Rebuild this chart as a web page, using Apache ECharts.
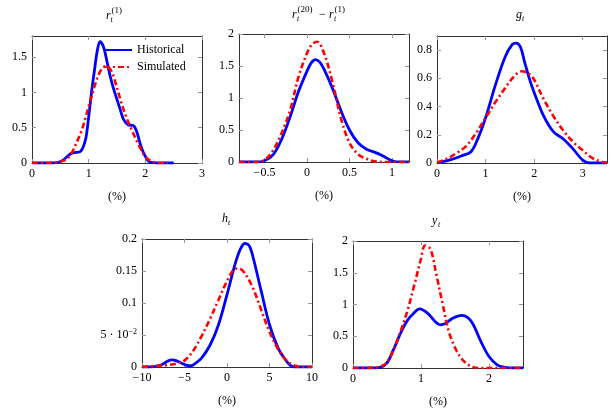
<!DOCTYPE html>
<html lang="en">
<head>
    <meta charset="UTF-8">
    <title>Densities</title>
    <script src="https://cdnjs.cloudflare.com/ajax/libs/echarts/6.0.0/echarts.min.js"></script>
    <style>
        body { margin: 0; background: #fff; }
        #main { width: 613px; height: 411px; }
    </style>
</head>
<body>
    <div id="main"></div>
    <script>
        // r_t^(1)
        const r1HistX = [0, 0.3, 0.45, 0.55, 0.62, 0.7, 0.78, 0.85, 0.9, 0.95, 1.0, 1.05, 1.1, 1.15, 1.2, 1.26, 1.32, 1.38, 1.44, 1.5, 1.56, 1.62, 1.7, 1.79, 1.85, 1.91, 1.97, 2.06, 2.15, 2.3, 2.5];
        const r1HistY = [0, 0, 0.005, 0.04, 0.09, 0.14, 0.15, 0.16, 0.22, 0.35, 0.65, 1.0, 1.3, 1.58, 1.72, 1.65, 1.45, 1.23, 1.05, 0.9, 0.75, 0.61, 0.54, 0.53, 0.44, 0.27, 0.14, 0.02, 0.003, 0, 0];
        const r1SimX = [0, 0.3, 0.45, 0.55, 0.62, 0.7, 0.76, 0.82, 0.88, 0.94, 1.0, 1.06, 1.12, 1.18, 1.24, 1.3, 1.36, 1.42, 1.48, 1.56, 1.65, 1.76, 1.88, 2.0, 2.12, 2.25, 2.4];
        const r1SimY = [0, 0, 0.01, 0.03, 0.06, 0.14, 0.24, 0.35, 0.47, 0.63, 0.8, 0.97, 1.13, 1.26, 1.34, 1.37, 1.35, 1.27, 1.12, 0.9, 0.68, 0.47, 0.26, 0.09, 0.02, 0, 0];
        const r1XTicks = [0, 1, 2, 3];
        const r1YTicks = [0, 0.5, 1, 1.5];

        // r_t^(20) - r_t^(1)
        const sprHistX = [-0.8, -0.6, -0.5, -0.4, -0.3, -0.2, -0.1, 0, 0.05, 0.1, 0.15, 0.2, 0.3, 0.4, 0.5, 0.6, 0.7, 0.8, 0.9, 1.0, 1.1, 1.2];
        const sprHistY = [0, 0, 0.02, 0.11, 0.35, 0.7, 1.1, 1.42, 1.55, 1.6, 1.56, 1.45, 1.15, 0.8, 0.5, 0.3, 0.2, 0.15, 0.09, 0.02, 0, 0];
        const sprSimX = [-0.8, -0.6, -0.5, -0.4, -0.3, -0.2, -0.1, 0, 0.06, 0.12, 0.2, 0.3, 0.4, 0.5, 0.6, 0.7, 0.8, 0.9, 1.0, 1.2];
        const sprSimY = [0, 0, 0.03, 0.18, 0.45, 0.8, 1.33, 1.7, 1.84, 1.88, 1.7, 1.25, 0.68, 0.3, 0.12, 0.05, 0.01, 0, 0, 0];
        const sprXTicks = [-0.5, 0, 0.5, 1];
        const sprYTicks = [0, 0.5, 1, 1.5, 2];

        // g_t
        const gHistX = [0, 0.25, 0.5, 0.7, 0.85, 1.0, 1.2, 1.4, 1.55, 1.63, 1.72, 1.8, 1.9, 2.0, 2.2, 2.4, 2.6, 2.8, 3.0, 3.15, 3.3, 3.5];
        const gHistY = [0, 0.02, 0.05, 0.08, 0.18, 0.32, 0.55, 0.75, 0.84, 0.85, 0.82, 0.72, 0.6, 0.5, 0.33, 0.22, 0.17, 0.1, 0.02, 0, 0, 0];
        const gSimX = [0, 0.2, 0.4, 0.6, 0.8, 1.0, 1.2, 1.4, 1.6, 1.75, 1.9, 2.0, 2.2, 2.4, 2.6, 2.8, 3.0, 3.2, 3.4, 3.5];
        const gSimY = [0.005, 0.03, 0.07, 0.12, 0.21, 0.32, 0.43, 0.53, 0.62, 0.65, 0.63, 0.59, 0.45, 0.33, 0.23, 0.15, 0.09, 0.035, 0.008, 0.003];
        const gXTicks = [0, 1, 2, 3];
        const gYTicks = [0, 0.2, 0.4, 0.6, 0.8];

        // h_t
        const hHistX = [-10, -9, -8, -7.5, -7, -6.5, -6, -5.5, -5, -4.5, -4.2, -3.8, -3, -2, -1, 0, 1, 1.6, 2.1, 2.6, 3, 4, 5, 6, 7, 7.5, 8, 10];
        const hHistY = [0, 0, 0.002, 0.005, 0.009, 0.011, 0.01, 0.007, 0.004, 0.002, 0.002, 0.005, 0.014, 0.034, 0.066, 0.113, 0.163, 0.185, 0.193, 0.19, 0.175, 0.12, 0.066, 0.03, 0.009, 0.002, 0, 0];
        const hSimX = [-10, -9, -8, -7, -6, -5, -4, -3, -2, -1, 0, 0.9, 1.4, 2, 3, 4, 5, 6, 7, 8, 9, 10];
        const hSimY = [0, 0.001, 0.002, 0.003, 0.005, 0.01, 0.025, 0.048, 0.075, 0.105, 0.134, 0.153, 0.154, 0.148, 0.125, 0.09, 0.055, 0.028, 0.01, 0.002, 0, 0];
        const hXTicks = [-10, -5, 0, 5, 10];
        const hYTicks = [0, 0.05, 0.1, 0.15, 0.2];

        // y_t
        const yHistX = [0, 0.3, 0.4, 0.5, 0.6, 0.7, 0.8, 0.9, 0.98, 1.1, 1.2, 1.28, 1.36, 1.46, 1.6, 1.68, 1.76, 1.88, 2.0, 2.12, 2.24, 2.35, 2.5];
        const yHistY = [0, 0, 0.01, 0.08, 0.3, 0.55, 0.75, 0.87, 0.93, 0.86, 0.74, 0.68, 0.7, 0.78, 0.83, 0.8, 0.7, 0.42, 0.18, 0.05, 0.01, 0, 0];
        const ySimX = [0, 0.3, 0.4, 0.5, 0.6, 0.7, 0.8, 0.9, 1.0, 1.06, 1.14, 1.22, 1.32, 1.41, 1.51, 1.61, 1.73, 1.85, 2.1, 2.5];
        const ySimY = [0, 0.005, 0.02, 0.09, 0.3, 0.58, 0.9, 1.3, 1.72, 1.93, 1.87, 1.5, 1.0, 0.57, 0.3, 0.13, 0.03, 0, 0, 0];
        const yXTicks = [0, 1, 2];
        const yYTicks = [0, 0.5, 1, 1.5, 2];

        const SERIF = "'Liberation Serif', 'DejaVu Serif', serif";
        const BLUE = '#0000ff';
        const RED = '#ff0000';

        const panels = [
            { grid: { left: 32, top: 36, width: 170, height: 127 }, xr: [0, 3], yr: [0, 1.8], xt: r1XTicks, yt: r1YTicks, hx: r1HistX, hy: r1HistY, sx: r1SimX, sy: r1SimY },
            { grid: { left: 239, top: 34, width: 170, height: 128 }, xr: [-0.8, 1.2], yr: [0, 2], xt: sprXTicks, yt: sprYTicks, hx: sprHistX, hy: sprHistY, sx: sprSimX, sy: sprSimY },
            { grid: { left: 437, top: 36, width: 170, height: 127 }, xr: [0, 3.5], yr: [0, 0.9], xt: gXTicks, yt: gYTicks, hx: gHistX, hy: gHistY, sx: gSimX, sy: gSimY },
            { grid: { left: 142, top: 239, width: 170, height: 128 }, xr: [-10, 10], yr: [0, 0.2], xt: hXTicks, yt: hYTicks, hx: hHistX, hy: hHistY, sx: hSimX, sy: hSimY },
            { grid: { left: 353, top: 241, width: 170, height: 127 }, xr: [0, 2.5], yr: [0, 2], xt: yXTicks, yt: yYTicks, hx: yHistX, hy: yHistY, sx: ySimX, sy: ySimY }
        ];

        function zip(xs, ys) {
            return xs.map((x, i) => [x, ys[i]]);
        }

        function tickLabel(v) {
            if (Math.abs(v - 0.05) < 1e-9) return '5 · 10{sup|−2}';
            return String(v).replace('-', '−');
        }

        function makeAxis(i, range, ticks, pos, withLabels, isX) {
            return {
                type: 'value',
                gridIndex: i,
                position: pos,
                min: range[0],
                max: range[1],
                name: (isX && withLabels) ? '(%)' : '',
                nameLocation: 'middle',
                nameGap: 28,
                nameTextStyle: { fontFamily: SERIF, fontSize: 12, color: '#000' },
                axisLine: { show: true, onZero: false, lineStyle: { color: '#333', width: 1 } },
                axisTick: { show: true, inside: true, length: 4, customValues: ticks, lineStyle: { color: '#999' } },
                axisLabel: {
                    show: withLabels,
                    customValues: ticks,
                    margin: 5,
                    fontFamily: SERIF,
                    fontSize: 12,
                    color: '#000',
                    formatter: tickLabel,
                    rich: { sup: { fontFamily: SERIF, fontSize: 8, padding: [0, 0, 7, 0], color: '#000' } }
                },
                splitLine: { show: false }
            };
        }

        const grids = [], xAxes = [], yAxes = [], series = [];
        panels.forEach((p, i) => {
            grids.push(p.grid);
            xAxes.push(makeAxis(i, p.xr, p.xt, 'bottom', true, true));
            xAxes.push(makeAxis(i, p.xr, p.xt, 'top', false, true));
            yAxes.push(makeAxis(i, p.yr, p.yt, 'left', true, false));
            yAxes.push(makeAxis(i, p.yr, p.yt, 'right', false, false));
            series.push({
                name: 'Historical', type: 'line', xAxisIndex: 2 * i, yAxisIndex: 2 * i,
                data: zip(p.hx, p.hy), symbol: 'none', smooth: 0.35,
                lineStyle: { color: BLUE, width: 2.8 }, itemStyle: { color: BLUE }
            });
            series.push({
                name: 'Simulated', type: 'line', xAxisIndex: 2 * i, yAxisIndex: 2 * i,
                data: zip(p.sx, p.sy), symbol: 'none', smooth: 0.35,
                lineStyle: { color: RED, width: 2.6, type: [6, 3, 2, 3] }, itemStyle: { color: RED }
            });
        });

        // math-style titles
        function txt(x, y, text, size, italic) {
            return {
                type: 'text', x: x, y: y,
                style: {
                    text: text, fill: '#000', verticalAlign: 'middle',
                    font: (italic ? 'italic ' : '') + size + 'px ' + SERIF
                }
            };
        }
        const titles = [
            txt(106, 15.5, 'r', 12, true), txt(111.5, 10.5, '(1)', 9, false), txt(110.5, 19.5, 't', 8, true),
            txt(292, 14.5, 'r', 12, true), txt(297.5, 9.5, '(20)', 9, false), txt(297, 18.5, 't', 8, true),
            txt(319, 15, '−', 12, false),
            txt(329, 14.5, 'r', 12, true), txt(334.5, 9.5, '(1)', 9, false), txt(334, 18.5, 't', 8, true),
            txt(516, 15, 'g', 12, true), txt(522, 19, 't', 8, true),
            txt(222, 219, 'h', 12, true), txt(228, 223, 't', 8, true),
            txt(432, 221, 'y', 12, true), txt(438, 225, 't', 8, true)
        ];

        const chart = echarts.init(document.getElementById('main'));
        chart.setOption({
            animation: false,
            backgroundColor: '#fff',
            grid: grids,
            xAxis: xAxes,
            yAxis: yAxes,
            legend: {
                data: ['Historical', 'Simulated'],
                orient: 'vertical',
                left: 98,
                top: 39,
                itemWidth: 28,
                itemHeight: 12,
                itemGap: 5,
                itemStyle: { opacity: 0 },
                textStyle: { fontFamily: SERIF, fontSize: 12, color: '#000' }
            },
            graphic: titles,
            series: series
        });
    </script>
</body>
</html>
